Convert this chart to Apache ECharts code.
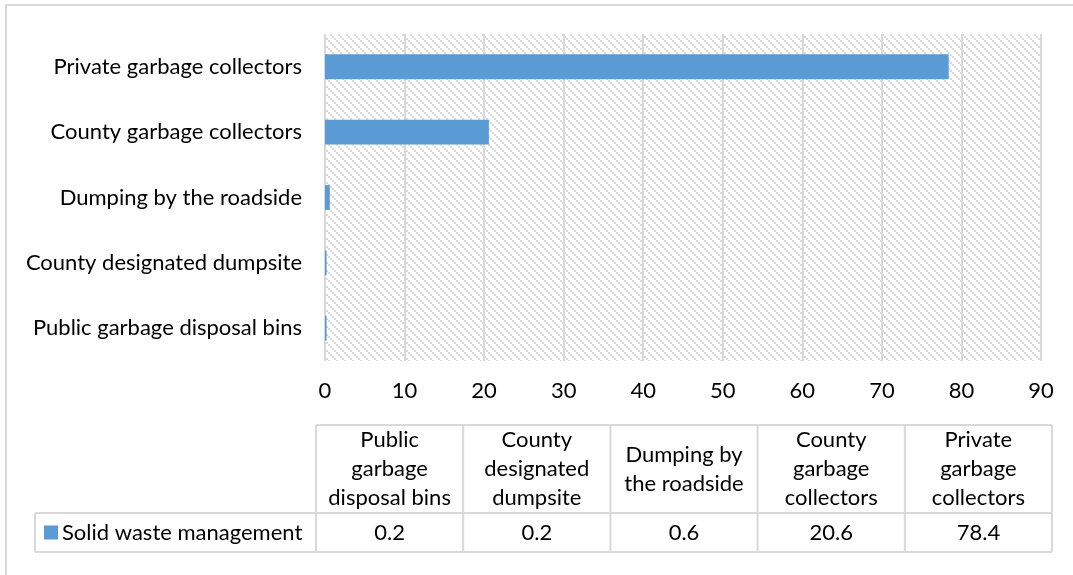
<!DOCTYPE html>
<html>
<head>
<meta charset="utf-8">
<script src="https://cdn.jsdelivr.net/npm/echarts@6/dist/echarts.min.js"></script>
<style>
  html, body { margin: 0; padding: 0; background: #fff; }
  #chart { width: 1073px; height: 575px; }
</style>
</head>
<body>
<div id="chart"></div>
<script>
// Solid waste disposal methods (%)
const categories = [
  'Public garbage disposal bins',
  'County designated dumpsite',
  'Dumping by the roadside',
  'County garbage collectors',
  'Private garbage collectors'
];
const values = [0.2, 0.2, 0.6, 20.6, 78.4];
const tableHeaders = [
  'Public\ngarbage\ndisposal bins',
  'County\ndesignated\ndumpsite',
  'Dumping by\nthe roadside',
  'County\ngarbage\ncollectors',
  'Private\ngarbage\ncollectors'
];
const seriesName = 'Solid waste management';
const xMin = 0, xMax = 90, xStep = 10;

const FONT = 'Lato, "Open Sans", sans-serif';
const FS = 22;
const BLUE = '#5b9bd5';
const LINE = '#d9d9d9';

// Light grey dotted diagonal fill for the plot area
function hatchTile() {
  const c = document.createElement('canvas');
  c.width = 8; c.height = 8;
  const g = c.getContext('2d');
  g.fillStyle = '#ffffff';
  g.fillRect(0, 0, 8, 8);
  g.fillStyle = '#dadada';
  for (let i = 0; i < 8; i += 2) g.fillRect(i, i, 2, 2);
  return c;
}

// Data table layout below the axis
const tbl = {
  labelLeft: 35, colLeft: 316, right: 1052,
  headTop: 425, headBottom: 513, rowBottom: 552
};
function buildTable() {
  const els = [];
  const colW = (tbl.right - tbl.colLeft) / values.length;
  const ln = (x1, y1, x2, y2) => ({
    type: 'line', silent: true,
    shape: { x1, y1, x2, y2 },
    style: { stroke: LINE, lineWidth: 2 }
  });
  // horizontal rules
  els.push(ln(tbl.colLeft, tbl.headTop, tbl.right, tbl.headTop));
  els.push(ln(tbl.labelLeft, tbl.headBottom, tbl.right, tbl.headBottom));
  els.push(ln(tbl.labelLeft, tbl.rowBottom, tbl.right, tbl.rowBottom));
  // vertical rules
  els.push(ln(tbl.labelLeft, tbl.headBottom, tbl.labelLeft, tbl.rowBottom));
  for (let i = 0; i <= values.length; i++) {
    const x = tbl.colLeft + i * colW;
    els.push(ln(x, tbl.headTop, x, tbl.rowBottom));
  }
  const midHead = (tbl.headTop + tbl.headBottom) / 2;
  const midRow = (tbl.headBottom + tbl.rowBottom) / 2;
  tableHeaders.forEach((h, i) => {
    els.push({
      type: 'text', silent: true,
      style: {
        text: h, x: tbl.colLeft + (i + 0.5) * colW, y: midHead,
        align: 'center', verticalAlign: 'middle',
        fontSize: FS, fontFamily: FONT, lineHeight: 29, fill: '#000'
      }
    });
    els.push({
      type: 'text', silent: true,
      style: {
        text: String(values[i]), x: tbl.colLeft + (i + 0.5) * colW, y: midRow,
        align: 'center', verticalAlign: 'middle',
        fontSize: FS, fontFamily: FONT, fill: '#000'
      }
    });
  });
  // legend key + series name
  els.push({
    type: 'rect', silent: true,
    shape: { x: 44, y: midRow - 7, width: 14, height: 14 },
    style: { fill: BLUE }
  });
  els.push({
    type: 'text', silent: true,
    style: {
      text: seriesName, x: 62, y: midRow,
      align: 'left', verticalAlign: 'middle',
      fontSize: FS, fontFamily: FONT, fill: '#000'
    }
  });
  // chart frame
  els.push({
    type: 'polyline', silent: true,
    shape: { points: [[6, 580], [6, 5], [1080, 5]] },
    style: { stroke: LINE, lineWidth: 2, fill: null }
  });
  return els;
}

const chart = echarts.init(document.getElementById('chart'), null, { renderer: 'canvas' });
chart.setOption({
  animation: false,
  backgroundColor: '#ffffff',
  textStyle: { fontFamily: FONT },
  grid: {
    left: 325, right: 32, top: 34, bottom: 214,
    show: true, borderWidth: 0,
    backgroundColor: { image: hatchTile(), repeat: 'repeat' }
  },
  xAxis: {
    type: 'value', min: xMin, max: xMax, interval: xStep,
    axisLine: { show: false }, axisTick: { show: false },
    axisLabel: { fontSize: FS, color: '#000', margin: 19, fontFamily: FONT },
    splitLine: { show: true, lineStyle: { color: LINE, width: 2 } }
  },
  yAxis: {
    type: 'category', data: categories,
    axisLine: { show: false }, axisTick: { show: false },
    axisLabel: { fontSize: FS, color: '#000', margin: 23, fontFamily: FONT }
  },
  series: [{
    name: seriesName, type: 'bar', data: values,
    barWidth: '38%', itemStyle: { color: BLUE }
  }],
  graphic: buildTable()
});
</script>
</body>
</html>
